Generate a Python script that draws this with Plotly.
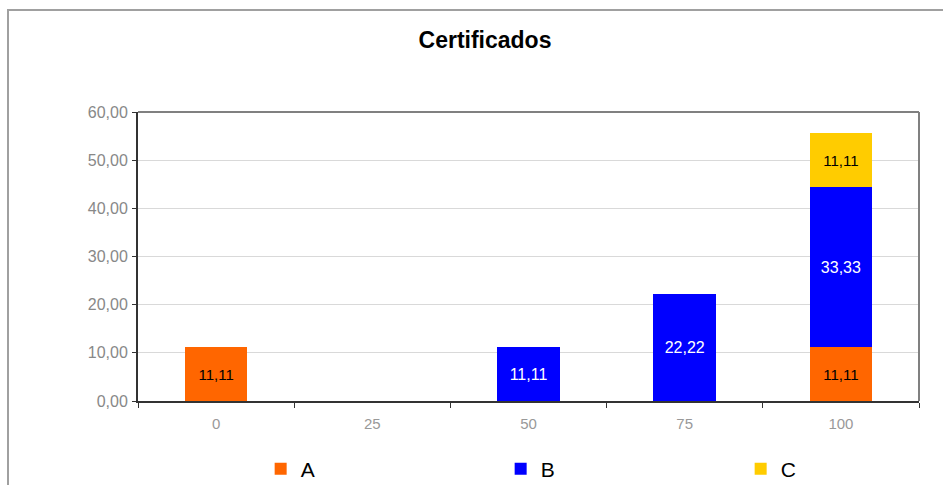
import plotly.graph_objects as go

categories = ["0", "25", "50", "75", "100"]
series_names = ["A", "B", "C"]
values_a = [11.11, None, None, None, 11.11]
values_b = [None, None, 11.11, 22.22, 33.33]
values_c = [None, None, None, None, 11.11]
colors = ["#FF6600", "#0000FF", "#FFCC00"]
text_colors = ["#000000", "#FFFFFF", "#000000"]
text_sizes = [15, 16, 15]

W, H = 943, 485
L, R, T, B = 138, 24, 112, 40
plot_h = H - T - B
axis_bottom_px = 401
y_dom0 = (H - B - axis_bottom_px) / plot_h

fig = go.Figure()
for name, vals, col, tcol, tsize in zip(series_names, [values_a, values_b, values_c], colors, text_colors, text_sizes):
    fig.add_trace(go.Bar(
        x=categories, y=vals, name=name, marker=dict(color=col, line=dict(width=0)),
        text=[("%.2f" % v).replace(".", ",") if v is not None else "" for v in vals],
        textposition="inside", insidetextanchor="middle", constraintext="none",
        textfont=dict(color=tcol, size=tsize, family="Liberation Sans, Arial"),
        width=0.4,
    ))

fig.update_layout(
    barmode="stack",
    width=W, height=H,
    margin=dict(l=L, r=R, t=T, b=B, autoexpand=False),
    paper_bgcolor="white", plot_bgcolor="white",
    separators=",.",
    font=dict(family="Liberation Sans, Arial", color="#000"),
    title=dict(text="<b>Certificados</b>", x=485/943, xref="container", xanchor="center",
               y=1 - 40/485, yref="container", yanchor="middle",
               font=dict(size=23, family="Liberation Sans, Arial", color="#000")),
    showlegend=True,
    legend=dict(orientation="h", x=0.618, xanchor="center",
                y=-(469 - (H - B)) / plot_h, yanchor="middle",
                entrywidth=195, font=dict(size=21, color="#000"), itemwidth=30,
                traceorder="normal"),
    xaxis=dict(type="category", showline=True, linecolor="#333", linewidth=2,
               ticks="outside", tickson="boundaries", ticklen=5, tickcolor="#333",
               ticklabelstandoff=8,
               tickfont=dict(size=15, color="#999"), showgrid=False),
    yaxis=dict(domain=[y_dom0, 1], range=[0, 60], dtick=10, tickformat=".2f", showline=True,
               linecolor="#333", linewidth=2, ticks="outside", ticklen=4, tickcolor="#333",
               ticklabelstandoff=1,
               tickfont=dict(size=16, color="#888"), gridcolor="#d9d9d9", gridwidth=1,
               zeroline=False),
    shapes=[
        dict(type="line", xref="x domain", yref="y domain", x0=0, x1=1, y0=1, y1=1,
             line=dict(color="#808080", width=2)),
        dict(type="line", xref="x domain", yref="y domain", x0=1, x1=1, y0=0, y1=1,
             line=dict(color="#808080", width=2)),
        dict(type="rect", xref="paper", yref="paper",
             x0=(8 - L) / (W - L - R), x1=1.2, y0=-0.5, y1=(H - B - 10) / plot_h,
             line=dict(color="#a0a0a0", width=2), fillcolor="rgba(0,0,0,0)", layer="below"),
    ],
)

fig.write_html("out.html")
